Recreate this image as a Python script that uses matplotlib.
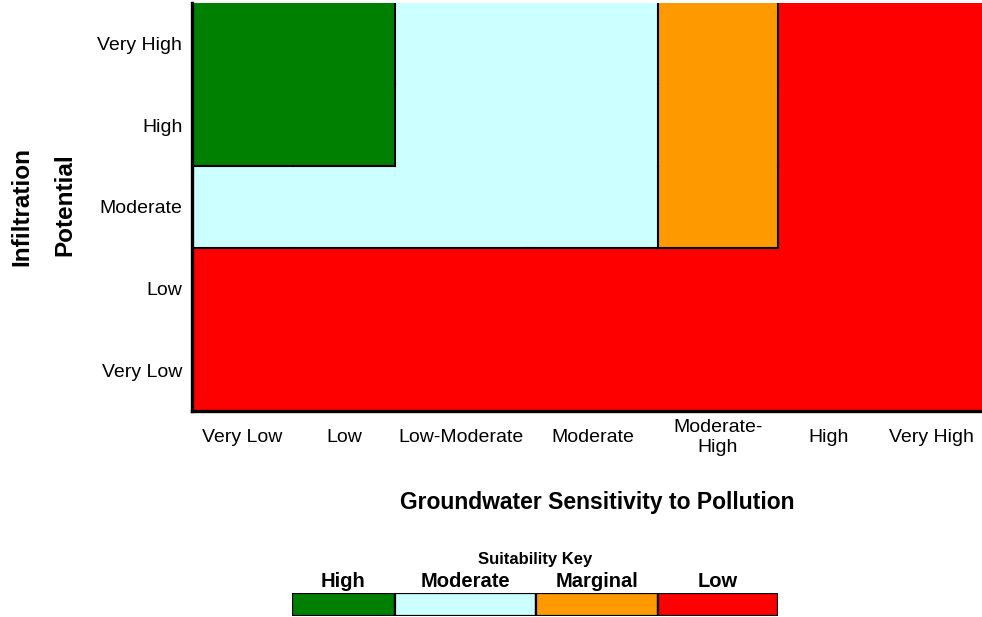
import numpy as np
import matplotlib
matplotlib.use("Agg")
import matplotlib.pyplot as plt
from matplotlib.colors import ListedColormap
from matplotlib.collections import LineCollection

plt.rcParams['font.family'] = ['Liberation Sans', 'DejaVu Sans']

# categories
sensitivity = ['Very Low', 'Low', 'Low-Moderate', 'Moderate', 'Moderate-\nHigh', 'High', 'Very High']
infiltration = ['Very Low', 'Low', 'Moderate', 'High', 'Very High']

# suitability classes: 0 High, 1 Moderate, 2 Marginal, 3 Low
suit_labels = ['High', 'Moderate', 'Marginal', 'Low']
suit_colors = ['#008000', '#CCFFFF', '#FF9900', '#FF0000']

# rows from Very Low infiltration (bottom) to Very High (top)
suitability = [
    [3, 3, 3, 3, 3, 3, 3],
    [3, 3, 3, 3, 3, 3, 3],
    [1, 1, 1, 1, 2, 3, 3],
    [0, 0, 1, 1, 2, 3, 3],
    [0, 0, 1, 1, 2, 3, 3],
]

# layout: column widths of the grid (pixels) and of the key cells
col_widths = [101, 102, 132, 131, 120, 102, 102]
key_widths = [103, 141, 122, 120]

W, H = 982, 617
fig = plt.figure(figsize=(W / 100, H / 100), dpi=100)
ax = fig.add_axes([192 / W, 1 - 411 / H, 1 - 192 / W, (411 - 2.5) / H])

m = np.array(suitability)
x_edges = np.concatenate([[0], np.cumsum(col_widths)])
y_edges = np.arange(len(infiltration) + 1)
cmap = ListedColormap(suit_colors)
ax.pcolormesh(x_edges, y_edges, m, cmap=cmap, vmin=-0.5, vmax=3.5)

# black outlines between zones
segs = []
nr, nc = m.shape
for r in range(nr):
    for c in range(nc - 1):
        if m[r, c] != m[r, c + 1]:
            segs.append([(x_edges[c + 1], r), (x_edges[c + 1], r + 1)])
for r in range(nr - 1):
    for c in range(nc):
        if m[r, c] != m[r + 1, c]:
            segs.append([(x_edges[c], r + 1), (x_edges[c + 1], r + 1)])
ax.add_collection(LineCollection(segs, colors='black', linewidths=1.5, capstyle='projecting'))

ax.set_xlim(0, x_edges[-1])
ax.set_ylim(0, len(infiltration))
for s in ['top', 'right']:
    ax.spines[s].set_visible(False)
for s in ['left', 'bottom']:
    ax.spines[s].set_linewidth(2.4)

ax.set_yticks(np.arange(len(infiltration)) + 0.5)
ax.set_yticklabels(infiltration, fontsize=14)
ax.set_xticks((x_edges[:-1] + x_edges[1:]) / 2)
ax.set_xticklabels(sensitivity, fontsize=14, linespacing=1.2)
ax.tick_params(axis='y', length=0, pad=7)
ax.tick_params(axis='x', length=0, pad=19)
for t in ax.get_xticklabels():
    t.set_va('center')

fig.text(22 / W, 1 - 207 / H, 'Infiltration', rotation=90, ha='center', va='center',
         fontsize=17.5, fontweight='bold')
fig.text(65 / W, 1 - 205 / H, 'Potential', rotation=90, ha='center', va='center',
         fontsize=17.5, fontweight='bold')
fig.text(597 / W, 1 - 502 / H, 'Groundwater Sensitivity to Pollution', ha='center', va='center',
         fontsize=16.5, fontweight='bold')

# suitability key
kx = fig.add_axes([292 / W, 1 - 616 / H, sum(key_widths) / W, 23 / H])
lefts = np.concatenate([[0], np.cumsum(key_widths)[:-1]])
kx.barh(0, key_widths, left=lefts, height=1, color=suit_colors, edgecolor='black', linewidth=1.6)
kx.set_xlim(0, sum(key_widths))
kx.set_ylim(-0.5, 0.5)
kx.axis('off')
for lab, l, w in zip(suit_labels, lefts, key_widths):
    kx.annotate(lab, (l + w / 2, 0.5), xytext=(0, 1.5), textcoords='offset points',
                ha='center', va='bottom', fontsize=14.5, fontweight='bold')
kx.annotate('Suitability Key', (0.5, 1), xycoords='axes fraction', xytext=(0, 19),
            textcoords='offset points', ha='center', va='bottom', fontsize=12, fontweight='bold')

fig.savefig('out.png', dpi=100)
